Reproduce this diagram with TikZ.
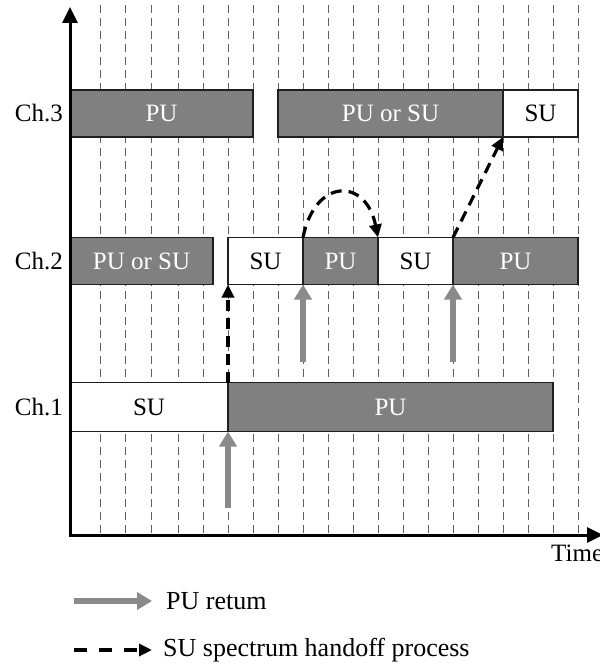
\documentclass[tikz,border=0pt]{standalone}
\usepackage{fontspec}
\setmainfont{Liberation Serif}
\usetikzlibrary{arrows.meta}
\definecolor{barfill}{HTML}{808080}
\definecolor{returngray}{HTML}{8A8A8A}
\definecolor{gridgray}{HTML}{606060}

\begin{document}
\begin{tikzpicture}[x=1bp,y=-1bp,
  slot/.style={draw=black!88, line width=1.6bp, inner sep=0pt, outer sep=0pt,
    minimum height=47bp, anchor=west, font=\fontsize{25bp}{29bp}\selectfont},
  busy/.style={slot, fill=barfill, text=white},
  free/.style={slot, fill=white, text=black},
  chlabel/.style={anchor=east, inner sep=0pt, font=\fontsize{25bp}{29bp}\selectfont},
  legendtext/.style={anchor=west, inner sep=0pt, font=\fontsize{26bp}{30bp}\selectfont},
  gridline/.style={draw=gridgray, line width=1bp, dash pattern=on 8bp off 5bp},
  axis/.style={line width=3bp},
  returnarrow/.style={draw=returngray, line width=6bp,
    -{Triangle[length=15bp,width=17bp]}},
  handoff/.style={line width=3.2bp, dash pattern=on 11bp off 7bp,
    -{Triangle[length=13bp,width=12bp]}},
]
\useasboundingbox (0,0) rectangle (600,668);

% time-slot grid
\foreach \gx in {100,125,151,178,203,228,253,278,303,328,353,378,403,428,453,478,503,528,553,578}
  \draw[gridline] (\gx,5) -- (\gx,535);

% channel 3
\node[busy, minimum width=183bp] (c3a) at (70,113.5) {PU};
\node[busy, minimum width=225bp] (c3b) at (278,113.5) {PU or SU};
\node[free, minimum width=75bp]  (c3c) at (503,113.5) {SU};

% channel 2
\node[busy, minimum width=143bp] (c2a) at (70,261) {PU or SU};
\node[free, minimum width=75bp]  (c2b) at (228,261) {SU};
\node[busy, minimum width=75bp]  (c2c) at (303,261) {PU};
\node[free, minimum width=75bp]  (c2d) at (378,261) {SU};
\node[busy, minimum width=125bp] (c2e) at (453,261) {PU};

% channel 1
\node[free, minimum width=158bp, minimum height=49bp] (c1a) at (70,407) {SU};
\node[busy, minimum width=325bp, minimum height=49bp] (c1b) at (228,407) {PU};

% channel labels
\node[chlabel] (l3) at (63,113) {Ch.3};
\node[chlabel] (l2) at (63,261) {Ch.2};
\node[chlabel] (l1) at (63,407) {Ch.1};

% axes
\coordinate (O) at (70,535);
\coordinate (ytop) at (70,7);
\coordinate (xend) at (603,535);
\draw[axis, {Triangle[length=16bp,width=15bp]}-{Triangle[length=16bp,width=15bp]}]
  (ytop) -- (O) -- (xend);
\node[legendtext, font=\fontsize{25bp}{29bp}\selectfont] (time) at (551,553) {Time};

% primary users returning
\coordinate (r1) at (228,508);
\coordinate (r2) at (303,362);
\coordinate (r3) at (453,362);
\draw[returnarrow] (r1) -- (c1b.south west);
\draw[returnarrow] (r2) -- (c2c.south west);
\draw[returnarrow] (r3) -- (c2e.south west);

% spectrum handoffs
\draw[handoff] (c1b.north west) -- (c2b.south west);
\draw[handoff] (c2c.north west) .. controls +(12,-60) and +(-12,-60) .. (c2d.north west);
\draw[handoff] (c2e.north west) -- (c3c.south west);

% legend
\coordinate (g1) at (74,601);
\coordinate (g2) at (74,650);
\node[legendtext] (t1) at (166,601) {PU retum};
\node[legendtext] (t2) at (163,650) {SU spectrum handoff process};
\draw[returnarrow, shorten >=14bp] (g1) -- (t1.west);
\draw[handoff, dash pattern=on 13bp off 12bp, shorten >=11bp] (g2) -- (t2.west);
\end{tikzpicture}
\end{document}
